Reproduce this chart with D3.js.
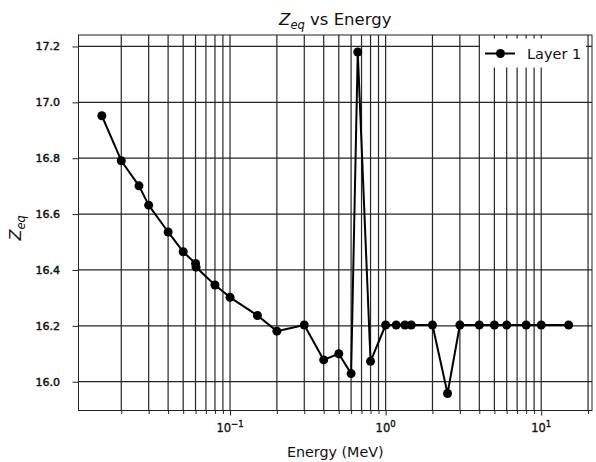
<!DOCTYPE html>
<html>
<head>
<meta charset="utf-8">
<script src="https://cdn.jsdelivr.net/npm/d3@7"></script>
<style>
  body { margin: 0; background: #fff; }
  svg { display: block; font-family: "DejaVu Sans", sans-serif; }
</style>
</head>
<body>
<svg id="chart" width="596" height="462"></svg>
<script>
// ---- data ----
const energies = [0.015, 0.02, 0.026, 0.03, 0.04, 0.05, 0.06, 0.0605, 0.08, 0.1, 0.15, 0.2, 0.3, 0.4, 0.5, 0.6, 0.662, 0.8, 1.0, 1.17, 1.33, 1.46, 2.0, 2.5, 3.0, 4.0, 5.0, 6.0, 8.0, 10.0, 15.0];
const zeq = [16.952, 16.791, 16.701, 16.632, 16.536, 16.465, 16.423, 16.410, 16.346, 16.302, 16.237, 16.181, 16.203, 16.078, 16.100, 16.029, 17.180, 16.073, 16.203, 16.203, 16.203, 16.203, 16.203, 15.958, 16.203, 16.203, 16.203, 16.203, 16.203, 16.203, 16.203];
const yTicks = [16.0, 16.2, 16.4, 16.6, 16.8, 17.0, 17.2];
const xMajorTicks = [0.1, 1, 10];
const xMajorExp = ["\u22121", "0", "1"];
const seriesName = "Layer 1";

// ---- layout ----
const pL = 78.5, pR = 592, pT = 35, pB = 410.5;
const svg = d3.select("#chart");

const x = d3.scaleLog().domain([0.01062, 21.2]).range([pL, pR]);
const y = d3.scaleLinear().domain([15.897, 17.241]).range([pB, pT]);

const gridColor = "#262626";

// minor + major x ticks
const xAll = x.ticks().filter(v => v >= x.domain()[0] && v <= x.domain()[1]);

// grid
const grid = svg.append("g");
grid.selectAll("line.vx").data(xAll).join("line")
  .attr("x1", d => x(d)).attr("x2", d => x(d))
  .attr("y1", pT).attr("y2", pB)
  .attr("stroke", gridColor).attr("stroke-width", 1.2);
grid.selectAll("line.hy").data(yTicks).join("line")
  .attr("x1", pL).attr("x2", pR)
  .attr("y1", d => y(d)).attr("y2", d => y(d))
  .attr("stroke", gridColor).attr("stroke-width", 1.2);

// axes
const xAxis = d3.axisBottom(x).tickValues(xAll).tickFormat("").tickSizeOuter(0)
  .tickSize(4);
const gx = svg.append("g").attr("transform", `translate(0,${pB})`).call(xAxis);
gx.select(".domain").remove();
gx.selectAll(".tick line").attr("stroke", "#222")
  .attr("y2", d => xMajorTicks.includes(d) ? 5 : 3.5);

const yAxis = d3.axisLeft(y).tickValues(yTicks).tickFormat(d3.format(".1f")).tickSize(6).tickSizeOuter(0);
const gy = svg.append("g").attr("transform", `translate(${pL},0)`).call(yAxis);
gy.select(".domain").remove();
gy.selectAll(".tick line").attr("stroke", "#222");
gy.selectAll(".tick text").attr("font-size", 11).attr("fill", "#111")
  .attr("font-family", "DejaVu Sans").attr("x", -18.5)
  .attr("stroke", "#111").attr("stroke-width", 0.45);

// x major labels with superscripts
const xl = svg.append("g");
xMajorTicks.forEach((v, i) => {
  const t = xl.append("text").attr("x", x(v)).attr("y", 432)
    .attr("text-anchor", "middle").attr("font-size", 11.5).attr("fill", "#111")
    .attr("stroke", "#111").attr("stroke-width", 0.35);
  t.append("tspan").text("10");
  t.append("tspan").attr("dy", -5).attr("font-size", 8.5).text(xMajorExp[i]);
});

// frame
svg.append("rect").attr("x", pL).attr("y", pT)
  .attr("width", pR - pL).attr("height", pB - pT)
  .attr("fill", "none").attr("stroke", "#222").attr("stroke-width", 1);

// legend background
svg.append("rect").attr("x", 480).attr("y", 38.5).attr("width", 106).attr("height", 29)
  .attr("fill", "#fff");

// series
const line = d3.line().x((d, i) => x(energies[i])).y(d => y(d));
svg.append("path").datum(zeq).attr("d", line)
  .attr("fill", "none").attr("stroke", "#000").attr("stroke-width", 2)
  .attr("stroke-linejoin", "round");
svg.append("g").selectAll("circle").data(zeq).join("circle")
  .attr("cx", (d, i) => x(energies[i])).attr("cy", d => y(d)).attr("r", 4.5)
  .attr("fill", "#000");

// legend content
const lg = svg.append("g");
lg.append("line").attr("x1", 485).attr("x2", 515).attr("y1", 53.5).attr("y2", 53.5)
  .attr("stroke", "#000").attr("stroke-width", 2);
lg.append("circle").attr("cx", 500.5).attr("cy", 53.5).attr("r", 4.5).attr("fill", "#000");
lg.append("text").attr("x", 527).attr("y", 58.5).attr("font-size", 14.5).attr("fill", "#111")
  .text(seriesName);

// title
const title = svg.append("text").attr("x", (pL + pR) / 2).attr("y", 25)
  .attr("text-anchor", "middle").attr("font-size", 16.5).attr("fill", "#111");
title.append("tspan").attr("font-style", "italic").text("Z");
title.append("tspan").attr("font-style", "italic").attr("font-size", 11.5).attr("dy", 3.5).text("eq");
title.append("tspan").attr("dy", -3.5).text(" vs Energy");

// x label
svg.append("text").attr("x", (pL + pR) / 2).attr("y", 457)
  .attr("text-anchor", "middle").attr("font-size", 14.3).attr("fill", "#111")
  .text("Energy (MeV)");

// y label
const yl = svg.append("text").attr("transform", `translate(21,${(pT + pB) / 2 + 5}) rotate(-90)`)
  .attr("text-anchor", "middle").attr("font-size", 16).attr("fill", "#111");
yl.append("tspan").attr("font-style", "italic").text("Z");
yl.append("tspan").attr("font-style", "italic").attr("font-size", 11.5).attr("dy", 3.5).text("eq");
</script>
</body>
</html>
